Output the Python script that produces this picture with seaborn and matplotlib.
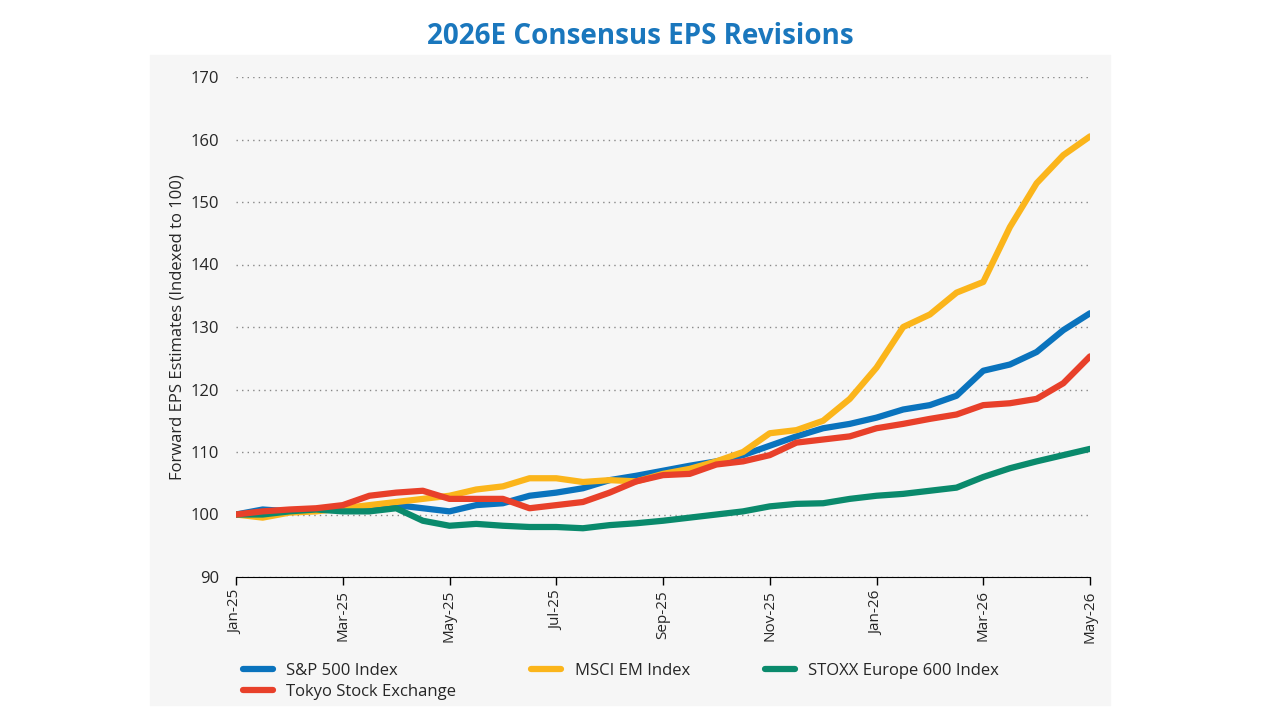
import numpy as np
import pandas as pd
import matplotlib
matplotlib.use("Agg")
import matplotlib.pyplot as plt
from matplotlib.patches import Rectangle
import seaborn as sns

# half-month steps from Jan-25 to May-26
months = np.arange(0, 16.5, 0.5)
tick_pos = list(range(0, 17, 2))
tick_labels = ["Jan-25", "Mar-25", "May-25", "Jul-25", "Sep-25",
               "Nov-25", "Jan-26", "Mar-26", "May-26"]

sp500 = [100, 100.8, 100.5, 100.8, 101, 101.3, 101.5, 101, 100.5, 101.5, 101.8,
         103, 103.5, 104.2, 105.5, 106.2, 107, 107.8, 108.5, 109.5, 111, 112.5,
         113.8, 114.5, 115.5, 116.8, 117.5, 119, 123, 124, 126, 129.5, 132.2]
msci_em = [100, 99.5, 100.3, 100.5, 101, 101.5, 102, 102.5, 103, 104, 104.5,
           105.8, 105.8, 105.2, 105.5, 105.3, 106.5, 107.3, 108.5, 110, 113,
           113.5, 115, 118.5, 123.5, 130, 132, 135.5, 137.2, 146, 153, 157.5, 160.5]
stoxx600 = [100, 100, 100.5, 100.8, 100.5, 100.5, 101, 99, 98.2, 98.5, 98.2,
            98, 98, 97.8, 98.3, 98.6, 99, 99.5, 100, 100.5, 101.3, 101.7,
            101.8, 102.5, 103, 103.3, 103.8, 104.3, 106, 107.4, 108.5, 109.5, 110.5]
tokyo = [100, 100.5, 100.8, 101, 101.5, 103, 103.5, 103.8, 102.5, 102.5, 102.5,
         101, 101.5, 102, 103.5, 105.3, 106.3, 106.5, 108, 108.5, 109.5, 111.5,
         112, 112.5, 113.8, 114.5, 115.3, 116, 117.5, 117.8, 118.5, 121, 125.3]

series = {
    "S&P 500 Index": sp500,
    "MSCI EM Index": msci_em,
    "STOXX Europe 600 Index": stoxx600,
    "Tokyo Stock Exchange": tokyo,
}
colors = ["#0a73bd", "#fbb51b", "#0a8a6c", "#e8402a"]

df = pd.DataFrame({"month": np.tile(months, len(series)),
                   "value": sum(series.values(), []),
                   "series": np.repeat(list(series.keys()), len(months))})

sns.set_style("white")
plt.rcParams["font.family"] = ["Open Sans", "DejaVu Sans"]

fig = plt.figure(figsize=(12.8, 7.2), dpi=100)
fig.patches.append(Rectangle((150 / 1280, 1 - 705 / 720), 960 / 1280, 650 / 720,
                             transform=fig.transFigure, color="#f6f6f6", zorder=-5))
ax = fig.add_axes([236 / 1280, 1 - 577 / 720, 854 / 1280, 500 / 720])
ax.set_zorder(2)
ax.set_facecolor("#f6f6f6")

sns.lineplot(data=df, x="month", y="value", hue="series", palette=colors,
             linewidth=4.5, ax=ax, legend=False)

ax.set_ylim(90, 170)
ax.set_xlim(0, 16)
ax.set_yticks(range(90, 171, 10))
ax.set_xticks(tick_pos)
ax.set_xticklabels(tick_labels, rotation=90, fontsize=11)
ax.tick_params(axis="y", labelsize=12, length=0, pad=12)
ax.tick_params(axis="x", length=6, width=1, bottom=True, color="black")
ax.yaxis.grid(True, linestyle=(0, (1, 3)), color="#888888", linewidth=1)
for s in ["top", "right", "left"]:
    ax.spines[s].set_visible(False)
ax.spines["bottom"].set_color("black")
ax.set_xlabel("")
ax.set_ylabel("Forward EPS Estimates (Indexed to 100)", fontsize=12)

fig.text(0.5, 0.95, "2026E Consensus EPS Revisions", ha="center", va="center",
         fontsize=20, fontweight="bold", color="#1a77bd")

# legend fills column-wise, reorder so Tokyo lands on the second row
names = list(series.keys())
order = [0, 3, 1, 2]
handles = [plt.Line2D([0], [0], color=colors[i], linewidth=4.5) for i in order]
leg = fig.legend(handles, [names[i] for i in order], loc="upper left",
                 bbox_to_anchor=(228 / 1280, 1 - 648 / 720), ncol=3, frameon=False,
                 fontsize=12, handlelength=1.8, columnspacing=4.5, labelspacing=0.3)
leg.set_zorder(3)

fig.savefig("out.png", dpi=100)
